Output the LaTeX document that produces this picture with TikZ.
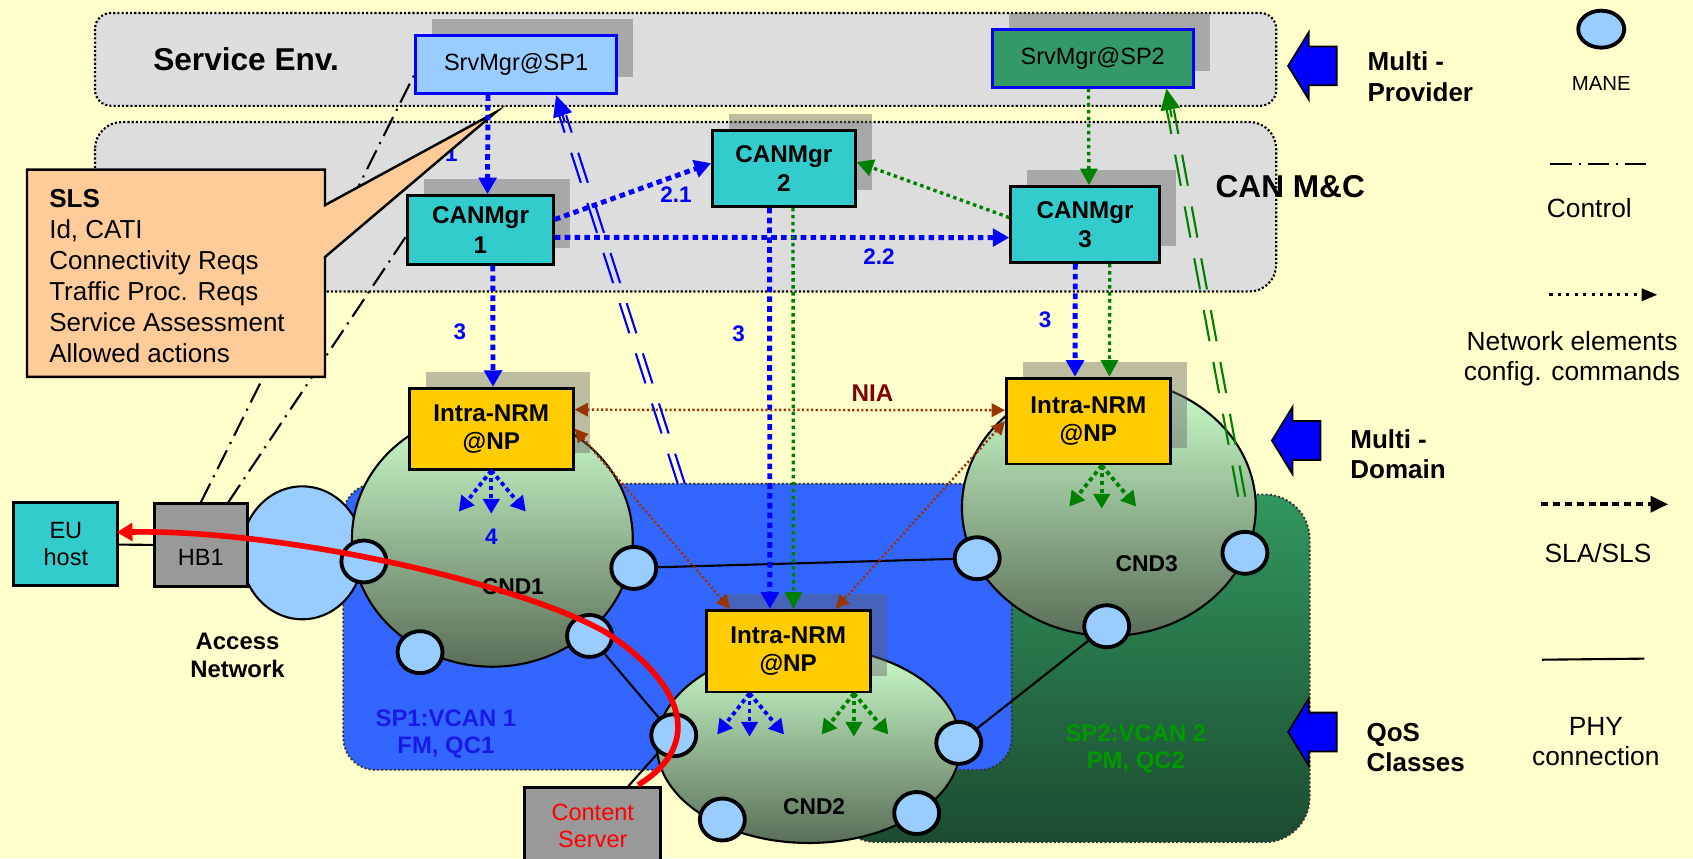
\documentclass[tikz,border=0pt]{standalone}
\usepackage{fontspec}
\setmainfont{Liberation Sans}
\usetikzlibrary{shapes.geometric,arrows.meta,shadows,calc}

\definecolor{bgyellow}{HTML}{FFFFCC}
\definecolor{panelgray}{HTML}{DDDDDD}
\definecolor{srvblue}{HTML}{99CCFF}
\definecolor{srvgreen}{HTML}{339966}
\definecolor{canteal}{HTML}{33CCCC}
\definecolor{nrmyellow}{HTML}{FFCC00}
\definecolor{slspeach}{HTML}{FFCC99}
\definecolor{maneblue}{HTML}{99CCFF}
\definecolor{spblue}{HTML}{3366FF}
\definecolor{spgreentop}{HTML}{31975F}
\definecolor{spgreenbot}{HTML}{1C4B30}
\definecolor{cndtop}{HTML}{CCFFCC}
\definecolor{cndbot}{HTML}{5A6E58}
\definecolor{boxgray}{HTML}{999999}
\definecolor{cfggreen}{HTML}{008000}
\definecolor{niabrown}{HTML}{993300}
\definecolor{niared}{HTML}{800000}
\definecolor{vcanblue}{HTML}{1A1AE6}
\definecolor{vcangreen}{HTML}{009900}

\begin{document}
\begin{tikzpicture}[x=0.010797cm, y=-0.010797cm,
  panel/.style={draw=black, line width=0.6pt, dash pattern=on 0.6pt off 0.6pt, fill=panelgray},
  region/.style={draw=black!80, line width=0.5pt, dash pattern=on 0.6pt off 0.6pt},
  shadowed/.style={general shadow={draw=none, fill=black!62, opacity=0.42, shadow xshift=4.7pt, shadow yshift=4.7pt}},
  box/.style={draw=black, line width=0.8pt, shadowed, inner sep=0pt, align=center},
  srvmgr/.style={box, draw=blue, font=\fontsize{6.7}{8}\selectfont, minimum width=20.1mm, minimum height=5.8mm},
  canmgr/.style={box, fill=canteal, font=\bfseries\fontsize{6.9}{8.3}\selectfont},
  nrm/.style={box, fill=nrmyellow, font=\bfseries\fontsize{6.9}{8}\selectfont, minimum width=16.4mm},
  host/.style={draw=black, line width=0.8pt, inner sep=0pt, align=center, font=\fontsize{6.7}{7.7}\selectfont},
  cnd/.style={ellipse, draw=black, line width=0.6pt, top color=cndtop, bottom color=cndbot, inner sep=0pt},
  mane/.style={ellipse, draw=black, line width=1.1pt, fill=maneblue, minimum width=4.5mm, minimum height=4.2mm, inner sep=0pt},
  numlbl/.style={text=blue, font=\bfseries\fontsize{6.4}{7}\selectfont},
  cndlbl/.style={font=\bfseries\fontsize{6.5}{7}\selectfont},
  boldlbl/.style={align=center, font=\bfseries\fontsize{6.8}{7.7}\selectfont},
  sidelbl/.style={anchor=west, align=left, inner sep=0pt, font=\bfseries\fontsize{7.4}{8.6}\selectfont},
  legendlbl/.style={align=center, font=\fontsize{7.5}{8.6}\selectfont},
  slsarrow/.style={draw=blue, line width=1.4pt, dash pattern=on 1.6pt off 1.2pt, -{Triangle[length=4.7pt,width=5pt]}},
  cfgarrow/.style={draw=cfggreen, line width=0.95pt, dash pattern=on 1pt off 1pt, -{Triangle[length=4.7pt,width=4.8pt]}},
  niaarrow/.style={draw=niabrown, line width=0.7pt, dash pattern=on 0.6pt off 0.7pt, {Triangle[length=3.8pt,width=3.8pt]}-{Triangle[length=3.8pt,width=3.8pt]}},
  fanarrow/.style={draw=#1, line width=1.1pt, dash pattern=on 1.2pt off 1pt, -{Triangle[length=4.2pt,width=4.6pt]}},
  dblline/.style={draw=#1, line width=0.6pt, dash pattern=on 9pt off 6pt, shorten >=6pt},
  ctrl/.style={draw=black, line width=0.6pt, dash pattern=on 6pt off 2pt on 0.6pt off 2pt},
  phy/.style={draw=black, line width=0.6pt},
  redflow/.style={draw=red, line width=1.6pt, -{Triangle[length=4.5pt,width=5pt]}},
  bigarrow/.style={draw=black, line width=0.5pt, fill=blue},
  callout/.style={draw=black, line width=0.7pt, fill=slspeach}]

\useasboundingbox (0,0) rectangle (1568,795);
\fill[bgyellow] (0,0) rectangle (1568,795);

% layers and VCAN regions
\draw[panel, rounded corners=1.6mm] (88,12) rectangle (1182,98);
\draw[panel, rounded corners=2.7mm] (88,113) rectangle (1182,270);
\draw[region, top color=spgreentop, bottom color=spgreenbot, rounded corners=4.5mm] (770,458) rectangle (1213,780);
\draw[region, fill=spblue, rounded corners=3.2mm] (318,448) rectangle (937,713);

% domains
\node[ellipse, draw=black, line width=0.6pt, fill=maneblue, minimum width=12.2mm, minimum height=13.3mm] (access) at (280,512) {};
\node[cnd, minimum width=28.1mm, minimum height=25.6mm] (cnd1) at (456,499) {};
\node[cnd, minimum width=29.4mm, minimum height=25.7mm] (cnd3) at (1027,470) {};
\node[cnd, minimum width=30.4mm, minimum height=19.6mm] (cnd2) at (749,690) {};

% MANEs
\node[mane] (m1l) at (337,520) {};
\node[mane] (m1r) at (587,526) {};
\node[mane] (m1b) at (389,604) {};
\node[mane] (m1c) at (546,589) {};
\node[mane] (m2l) at (624,681) {};
\node[mane] (m2r) at (888,688) {};
\node[mane] (m2b) at (669,759) {};
\node[mane] (m2c) at (849,753) {};
\node[mane] (m3l) at (905,517) {};
\node[mane] (m3r) at (1153,512) {};
\node[mane] (m3b) at (1025,580) {};

% managers
\node[srvmgr, fill=srvblue] (srv1) at (478,60) {SrvMgr@SP1};
\node[srvmgr, fill=srvgreen] (srv2) at (1012,54) {SrvMgr@SP2};
\node[canmgr, minimum width=14.6mm, minimum height=6.9mm] (can1) at (445,213) {CANMgr\\1};
\node[canmgr, minimum width=14.3mm, minimum height=7.6mm] (can2) at (726,156) {CANMgr\\2};
\node[canmgr, minimum width=14.9mm, minimum height=7.6mm] (can3) at (1005,208) {CANMgr\\3};
\node[nrm, minimum height=8.1mm] (nrm1) at (455,397) {Intra-NRM\\@NP};
\node[nrm, minimum height=8.2mm] (nrm2) at (730,603) {Intra-NRM\\@NP};
\node[nrm, minimum height=8.6mm] (nrm3) at (1008,390) {Intra-NRM\\@NP};
\node[host, fill=canteal, minimum width=10.4mm, minimum height=8.3mm] (eu) at (61,504) {EU\\host};
\node[host, fill=boxgray, minimum width=9.3mm, minimum height=8.3mm] (hb1) at (186,505) {};
\node[font=\fontsize{6.7}{7.7}\selectfont] (hb1lbl) at (186,516) {HB1};
\node[host, fill=boxgray, text=red, minimum width=13.6mm, minimum height=7.7mm] (cs) at (549,765) {Content\\Server};

% PHY links
\draw[phy] (eu) -- (hb1);
\draw[phy] (m1r) -- (m3l);
\draw[phy] (m1c) -- (m2l);
\draw[phy] (cs) -- (m2l);
\draw[phy] (m2r) -- (m3b);

% texts
\node[font=\bfseries\fontsize{9}{10}\selectfont] (senv) at (228,55) {Service Env.};
\node[font=\bfseries\fontsize{9}{10}\selectfont] (canmc) at (1195,173) {CAN M\&C};
\node[cndlbl] (cnd1lbl) at (475,543) {CND1};
\node[cndlbl] (cnd2lbl) at (754,747) {CND2};
\node[cndlbl] (cnd3lbl) at (1062,522) {CND3};
\node[boldlbl] (acclbl) at (220,607) {Access\\Network};
\node[boldlbl, text=vcanblue] (sp1lbl) at (413,680) {SP1:VCAN 1\\FM, QC1};
\node[boldlbl, text=vcangreen] (sp2lbl) at (1052,694) {SP2:VCAN 2\\PM, QC2};

% control
\draw[ctrl] (hb1.north) -- ([yshift=-2.8pt]srv1.west);
\draw[ctrl] ([xshift=7.8pt]hb1.north) -- ([yshift=-1.8pt]can1.west);
\node[numlbl] (lbl1) at (418,142) {1};

% SLS callout
\draw[callout] (25,157) -- (301,157) -- (301,190) -- (459,104) -- (301,238) -- (301,349) -- (25,349) -- cycle;
\node[anchor=north west, inner sep=0pt, align=left, font=\fontsize{7.4}{8.8}\selectfont] (sls) at (45,175) {\textbf{SLS}\\Id, CATI\\Connectivity Reqs\\Traffic Proc. Reqs\\Service Assessment\\Allowed actions};

% SLA/SLS and config arrows
\draw[slsarrow] ([xshift=-8pt]srv1.south) -- ([xshift=2pt]can1.north);
\draw[slsarrow] ([yshift=3pt]can1.east) -- ([yshift=1.5pt]can2.west);
\draw[slsarrow] ([yshift=-2.1pt]can1.east) -- ([yshift=-3.7pt]can3.west);
\draw[slsarrow] ([xshift=3.5pt]can1.south) -- ([xshift=0.5pt]nrm1.north);
\draw[slsarrow] ([xshift=-4.1pt]can2.south) -- ([xshift=-5.2pt]nrm2.north);
\draw[slsarrow] ([xshift=-2.8pt]can3.south) -- ([xshift=-3.8pt]nrm3.north);
\draw[cfgarrow] ([xshift=-1.2pt]srv2.south) -- ([xshift=1.1pt]can3.north);
\draw[cfgarrow] ([yshift=2pt]can3.west) -- ([yshift=1.8pt]can2.east);
\draw[cfgarrow] ([xshift=2.6pt]can2.south) -- ([xshift=1.5pt]nrm2.north);
\draw[cfgarrow] ([xshift=7pt]can3.south) -- ([xshift=6pt]nrm3.north);
\draw[niaarrow] ([yshift=5.4pt]nrm1.east) -- ([yshift=3.1pt]nrm3.west);
\draw[niaarrow] (nrm1.east) -- ([xshift=-16.6pt]nrm2.north);
\draw[niaarrow] (nrm3.west) -- ([xshift=13.5pt]nrm2.north);

\node[numlbl] (lbl21) at (626,180) {2.1};
\node[numlbl] (lbl22) at (814,238) {2.2};
\node[numlbl] (lbl3a) at (426,307) {3};
\node[numlbl] (lbl3b) at (684,309) {3};
\node[numlbl] (lbl3c) at (968,296) {3};
\node[numlbl] (lbl4) at (455,497) {4};
\node[text=niared, font=\bfseries\fontsize{6.9}{8}\selectfont] (nia) at (808,364) {NIA};

% element commands
\coordinate (f1) at (nrm1.south);
\coordinate (f2) at ([xshift=-11pt]nrm2.south);
\coordinate (f3) at ([xshift=18.7pt]nrm2.south);
\coordinate (f4) at ([xshift=3.8pt]nrm3.south);
\foreach \src/\col in {f1/blue,f2/blue,f3/cfggreen,f4/cfggreen}
  \foreach \dx/\dy [count=\i] in {-30/38,0/40,32/38} {
    \coordinate (\src\i) at ($(\src)+(\dx,\dy)$);
    \draw[fanarrow=\col] (\src) -- (\src\i);
  }

% SP registration
\coordinate (dbl1) at (631,448);
\coordinate (dbl1end) at ([xshift=11.4pt]srv1.south);
\draw[dblline=blue, transform canvas={xshift=1pt}] (dbl1) -- (dbl1end);
\draw[dblline=blue, transform canvas={xshift=-1pt}] (dbl1) -- (dbl1end);
\draw[blue, line width=0.6pt, -{Triangle[length=6pt,width=5.5pt]}] ($(dbl1)!0.93!(dbl1end)$) -- (dbl1end);
\coordinate (dbl2) at (1150,460);
\coordinate (dbl2end) at ([xshift=21pt]srv2.south);
\draw[dblline=cfggreen, transform canvas={xshift=1pt}] (dbl2) -- (dbl2end);
\draw[dblline=cfggreen, transform canvas={xshift=-1pt}] (dbl2) -- (dbl2end);
\draw[cfggreen, line width=0.6pt, -{Triangle[length=6pt,width=5.5pt]}] ($(dbl2)!0.93!(dbl2end)$) -- (dbl2end);

% content flow
\coordinate (redstart) at (591,727);
\coordinate (redmid) at (560,585);
\coordinate (redend) at (108,493);
\draw[redflow] (redstart) .. controls (655,688) and (630,630) .. (redmid) .. controls (480,540) and (260,490) .. (redend);

% side arrows
\foreach \ax/\ay in {1193/61,1178/408,1193/678}
  \draw[bigarrow] (\ax,\ay) -- ++(19,-31) -- ++(0,13) -- ++(26,0) -- ++(0,36) -- ++(-26,0) -- ++(0,13) -- cycle;
\node[sidelbl] (mprov) at (1266,71) {Multi -\\Provider};
\node[sidelbl] (mdom) at (1250,421) {Multi -\\Domain};
\node[sidelbl] (qos) at (1265,692) {QoS\\Classes};

% legend
\node[mane, minimum width=4.6mm, minimum height=3.7mm] (lmane) at (1483,27) {};
\node[legendlbl, font=\fontsize{5.8}{7}\selectfont] (lmanetxt) at (1483,77) {MANE};
\coordinate (lctrl1) at (1436,152);
\coordinate (lctrl2) at (1530,152);
\draw[ctrl] (lctrl1) -- (lctrl2);
\node[legendlbl] (lctrltxt) at (1472,193) {Control};
\coordinate (lcfg1) at (1435,273);
\coordinate (lcfg2) at (1535,273);
\draw[draw=black, line width=0.8pt, dash pattern=on 0.9pt off 1.5pt, -{Triangle[length=4.5pt,width=3.5pt]}] (lcfg1) -- (lcfg2);
\node[legendlbl] (lcfgtxt) at (1456,332) {Network elements\\config. commands};
\coordinate (lsla1) at (1427,467);
\coordinate (lsla2) at (1545,467);
\draw[draw=black, line width=1.1pt, dash pattern=on 2pt off 1.4pt, -{Triangle[length=5pt,width=4.5pt]}] (lsla1) -- (lsla2);
\node[legendlbl] (lslatxt) at (1480,512) {SLA/SLS};
\coordinate (lphy1) at (1428,611);
\coordinate (lphy2) at (1523,610);
\draw[phy] (lphy1) -- (lphy2);
\node[legendlbl] (lphytxt) at (1478,687) {PHY\\connection};
\end{tikzpicture}
\end{document}
